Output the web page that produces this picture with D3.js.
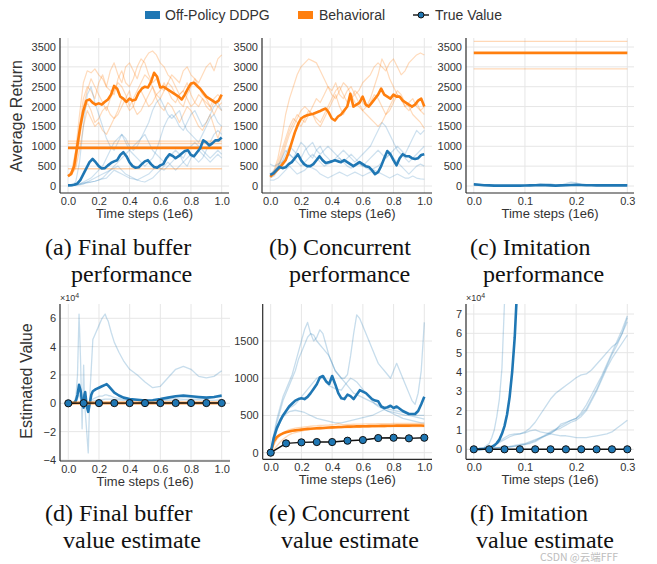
<!DOCTYPE html>
<html><head><meta charset="utf-8">
<script src="https://cdn.jsdelivr.net/npm/d3@7"></script>
<style>body{margin:0;background:#fff}svg{display:block}</style>
</head><body><svg id="c" width="657" height="564"></svg>
<script>
// ---------- DATA ----------
const legendLabels = ["Off-Policy DDPG", "Behavioral", "True Value"];
const xTicksLong = [0, 0.2, 0.4, 0.6, 0.8, 1.0];
const xTicksShort = [0, 0.1, 0.2, 0.3];
const yTicksReturn = [0, 500, 1000, 1500, 2000, 2500, 3000, 3500];
const yTicksD = [-4, -2, 0, 2, 4, 6];
const yTicksE = [0, 500, 1000, 1500];
const yTicksF = [0, 1, 2, 3, 4, 5, 6, 7];
const captions = [["(a) Final buffer", "performance"], ["(b) Concurrent", "performance"], ["(c) Imitation", "performance"],
                  ["(d) Final buffer", "value estimate"], ["(e) Concurrent", "value estimate"], ["(f) Imitation", "value estimate"]];

// (a) Final buffer performance — values on a 0..1e6 grid
const aBehavMean = [250,300,500,1000,1500,1900,2150,2180,2100,2050,2080,2050,2120,2180,2300,2520,2450,2250,2200,2120,2200,2150,2180,2350,2450,2500,2480,2620,2850,2750,2480,2500,2450,2400,2350,2300,2250,2180,2300,2450,2580,2600,2520,2450,2350,2250,2200,2150,2100,2150,2300];
const aDdpgMean = [20,20,30,60,150,300,450,600,680,600,500,440,450,520,580,620,650,780,850,750,600,500,460,470,550,620,650,550,480,460,520,550,700,800,760,700,750,820,880,900,780,750,850,950,1150,1100,1020,1080,1150,1150,1220];
const aBehavRuns = [
 [250,400,900,1800,2600,2900,2850,2950,2800,2700,2500,2900,3100,2800,2600,3000,3100,2900,2700,3000,3200,3350,3400,3300,3100,3000,2800,2700,2500,2300,2400,2600,2300,2100,2000,2200,2100,2000,2200,2300,2200],
 [250,300,600,1500,2200,2500,2400,2200,2600,2800,2500,2400,2300,2700,2900,2600,2500,2700,3000,3200,3100,2800,2600,2700,2500,2400,2600,2800,2700,2600,2900,3000,2800,2700,2600,2800,3000,3100,2900,3200,3300],
 [250,300,450,900,1500,1900,1700,1500,1600,1400,1300,1500,1700,1800,2000,2200,2400,2000,1800,1900,2100,2300,2500,2200,2000,1900,2100,2000,1800,1600,1800,2000,1900,1700,1500,1400,1600,1800,1500,1200,1500],
 [250,350,700,1400,2000,2400,2700,2500,2300,2100,1900,2200,2400,2600,2500,2300,2000,2200,2400,2600,2800,2700,2500,2300,2200,2400,2600,2500,2300,2100,2000,2300,2500,2700,2500,2300,2200,2000,1800,2000,2100],
 [250,300,500,1200,1800,2100,1900,1600,1700,1900,2000,1800,1700,1900,2200,2100,1900,2000,2300,2400,2200,2000,2100,2300,2400,2600,2400,2200,2100,2300,2400,2200,2000,2100,2300,2200,2000,1900,2100,2000,1900]
];
const aDdpgRuns = [
 [0,20,100,600,1500,2300,2500,2100,1800,1500,1200,1000,900,1100,1300,1100,900,800,700,600,500,600,700,900,1200,1500,1700,1800,1700,1500,1400,1600,1800,1900,1700,1500,1600,1800,2000,2100,1900],
 [0,10,20,50,100,150,200,300,400,500,700,900,1100,1200,1300,1200,1000,900,1000,1200,1400,1600,1900,2100,2200,2000,1800,1700,1800,1900,1600,1400,1300,1200,1100,1300,1500,1700,1800,1600,1500],
 [0,10,30,50,80,100,100,120,150,200,300,400,500,600,700,800,900,1000,1100,1200,1300,1100,900,800,700,600,700,800,900,800,700,900,1000,1100,1000,900,800,700,800,900,800],
 [0,10,20,40,60,80,100,120,150,180,200,300,400,350,300,250,200,180,150,200,250,300,400,500,450,400,500,600,700,800,600,500,700,800,900,800,700,600,700,800,700],
 [0,10,20,30,50,100,150,200,250,300,350,400,450,500,400,300,250,200,150,120,100,150,200,300,400,500,600,500,400,500,600,700,800,700,600,700,900,1100,1300,1400,1300]
];
const aBufferMean = 960;
const aBufferRuns = [1130, 1070, 435];

// (b) Concurrent performance
const bBehavMean = [230,300,380,450,550,650,850,1100,1350,1550,1700,1750,1780,1800,1820,1850,1880,1920,1950,1850,1700,1650,1750,1800,1900,2000,2320,2000,2050,2100,2250,2050,2000,2100,2200,2300,2450,2300,2250,2200,2300,2250,2250,2150,2100,2050,2000,2050,2150,2200,2000];
const bDdpgMean = [280,320,400,480,450,470,550,600,700,800,650,550,500,500,550,650,750,650,580,600,620,650,620,600,650,600,550,500,550,600,550,500,480,400,300,350,500,700,880,800,650,520,700,800,750,750,700,680,700,780,800];
const bBehavRuns = [
 [250,400,700,1200,1800,2200,2500,2800,3000,3100,3200,3150,3100,2900,2700,2500,2300,2200,2400,2600,2500,2300,2100,2000,1900,1800,1700,1600,1500,1600,1800,2000,2200,2400,2300,2100,2000,1800,1700,1600,1450],
 [250,300,500,800,1100,1400,1600,1800,1700,1600,1800,2000,2200,2100,2300,2500,2400,2600,2300,2200,2400,2500,2300,2400,2600,2700,2800,3000,3100,3000,2900,3100,3200,3000,2800,2900,3100,3200,3300,3350,3300],
 [250,350,600,900,1200,1500,1700,1600,1500,1700,1900,1800,1600,1500,1700,1900,2100,2300,2000,1800,2000,2200,2400,2300,2100,2000,2200,2500,2800,3200,3000,2700,2500,2300,2200,2000,1900,2000,2100,1900,1800],
 [250,300,450,700,1000,1300,1500,1700,1900,2000,1900,1800,1700,1600,1800,2000,2200,2400,2500,2300,2100,2200,2300,2100,1900,2000,2100,2300,2200,2000,1800,1900,2100,2300,2200,2000,2100,2200,2000,1900,2000]
];
const bDdpgRuns = [
 [300,400,500,700,900,800,700,900,1100,1000,800,700,900,1000,800,700,600,700,800,900,800,700,600,700,800,900,1000,1200,1400,1600,1500,1300,1100,900,800,700,600,700,800,900,1000],
 [200,250,400,600,800,1000,900,800,700,900,1000,1100,900,800,900,1000,900,800,700,600,700,800,700,600,500,600,700,800,900,800,700,800,900,1000,900,800,1000,1200,1400,1300,1400],
 [150,150,200,300,400,500,400,300,350,400,500,450,400,300,250,200,250,300,350,300,250,300,350,300,250,300,350,400,350,300,250,200,250,300,250,200,200,250,200,180,170],
 [550,500,550,600,700,800,700,600,500,600,700,800,700,600,500,550,600,650,700,600,500,450,500,550,500,450,400,450,500,600,700,800,700,600,500,400,300,400,500,550,500]
];

// (c) Imitation performance (0..0.3e6)
const cBehavMean = 3350;
const cBehavRuns = [3640, 3380, 2950];
const cDdpgMean = [40,30,20,15,10,10,10,10,10,10,12,15,20,25,20,15,10,15,20,25,30,25,20,20,15,15,15,15,15,15,15];
const cDdpgRun = [50,40,30,20,15,10,10,10,10,10,15,20,30,50,60,50,30,20,60,100,80,40,30,20,20,15,15,15,15,15,15];

// (d) Final buffer value estimate (x1e4)
const dTime = [0,.02,.04,.05,.06,.07,.08,.09,.10,.105,.11,.12,.13,.14,.15,.16,.18,.20,.22,.24,.25,.26,.28,.30,.33,.36,.40,.45,.50,.55,.60,.65,.70,.75,.80,.85,.90,.95,1.0];
const dDdpgMean = [0,0,0.05,0.2,0.6,1.3,0.9,0.1,-0.3,0.6,0.8,-0.2,-0.6,0.0,0.6,0.85,1.0,1.1,1.2,1.3,1.35,1.25,1.0,0.75,0.55,0.4,0.3,0.25,0.2,0.22,0.3,0.4,0.5,0.55,0.5,0.45,0.4,0.45,0.55];
const dDdpgRuns = [
 [0,0,0.1,0.5,2.0,6.3,3.0,-1.8,2.7,0.5,-0.5,-2.0,-3.5,0.5,2.5,4.5,5.0,5.5,6.0,6.3,6.0,5.8,5.0,4.3,3.6,3.0,2.4,2.0,1.5,1.1,1.2,1.8,2.4,2.6,2.4,1.9,1.8,1.9,2.3],
 [0,0,0.02,0.1,0.3,0.6,0.3,0.0,0.1,0.2,0.3,0.1,0.0,0.1,0.2,0.3,0.4,0.5,0.5,0.6,0.6,0.55,0.5,0.4,0.35,0.3,0.25,0.2,0.2,0.2,0.25,0.3,0.35,0.4,0.4,0.35,0.35,0.4,0.45],
 [0,0,0,0.02,0.05,0.1,0.1,0.05,0.05,0.05,0.05,0.05,0.05,0.1,0.1,0.15,0.2,0.2,0.25,0.3,0.3,0.3,0.3,0.25,0.25,0.2,0.2,0.2,0.15,0.15,0.15,0.2,0.2,0.25,0.25,0.25,0.2,0.2,0.25]
];
const dBehav = [0.03,0.03];
const trueTimeLong = [0,0.1,0.2,0.3,0.4,0.5,0.6,0.7,0.8,0.9,1.0];
const dTrue = [0,0.012,0.013,0.014,0.014,0.016,0.017,0.02,0.02,0.019,0.02];

// (e) Concurrent value estimate
const eDdpgMean = [0,200,330,420,500,560,620,660,700,720,730,720,750,800,860,920,1010,1030,960,920,1030,920,800,730,720,780,760,720,780,840,820,800,760,720,700,690,620,600,610,630,600,620,590,560,540,520,520,520,560,650,750];
const eDdpgRuns = [
 [0,250,450,600,750,850,950,1050,1200,1350,1500,1650,1750,1600,1500,1550,1650,1600,1450,1300,1200,1100,1050,1000,950,900,850,800,780,760,740,720,700,680,660,640,620,600,590,580,570,560,550,540,530,520,510,500,500,500,500],
 [0,200,400,550,700,800,900,1000,1100,1250,1350,1450,1550,1600,1580,1500,1450,1400,1350,1300,1200,1100,1050,1000,1000,1050,1300,1600,1850,1800,1700,1600,1500,1400,1300,1200,1150,1100,1050,1000,1100,1200,1100,1000,900,800,700,650,800,1100,1750],
 [0,200,350,450,500,550,600,620,650,700,750,800,850,900,950,1000,1020,1000,950,900,880,860,850,840,900,950,1000,980,950,900,850,800,750,700,650,620,600,580,560,550,540,530,520,510,500,500,490,480,470,460,450],
 [0,150,300,400,480,520,550,560,570,560,550,540,520,500,480,460,450,440,430,420,410,400,400,400,410,420,430,440,450,460,470,480,490,500,520,540,560,580,560,540,520,500,480,460,450,440,430,420,410,400,400]
];
const eBehavMean = [0,150,210,240,260,275,285,295,300,305,310,315,320,322,325,328,330,332,335,338,340,342,345,346,348,350,350,352,353,354,355,356,357,358,358,359,360,360,361,362,362,363,363,364,364,364,365,365,365,365,362];
const eBehavRuns = [
 [0,100,180,230,260,290,310,320,330,335,340,345,350,355,360,362,365,368,370,372,375,378,390,380,378,380,380,382,383,385,385,386,387,388,388,389,390,390,390,391,392,392,393,393,393,394,394,394,394,394,390],
 [0,40,90,140,180,210,240,260,270,280,290,300,305,310,312,315,318,320,322,325,328,330,332,334,335,336,337,338,339,340,341,342,343,344,345,346,347,347,348,348,349,349,350,350,350,350,351,351,351,351,350]
];
const eTrue = [0,125,139,143,143,161,170,197,201,193,201];

// (f) Imitation value estimate (x1e4, 0..0.3e6)
const fMeanTime = [0,.01,.02,.03,.035,.04,.045,.05,.055,.06,.065,.07,.075,.08,.085];
const fDdpgMean = [0,0.01,0.03,0.07,0.12,0.2,0.32,0.5,0.8,1.2,1.8,2.7,4.0,5.8,8.5];
const fSteepTime = [0,.01,.02,.03,.035,.04,.045,.05,.055,.06,.065];
const fSteepRun = [0,0.02,0.1,0.3,0.6,1.0,1.7,2.6,4.2,7.6,11];
const fDdpgRuns = [
 [0,0.02,0.05,0.1,0.2,0.35,0.5,0.65,0.75,0.8,0.9,1.1,1.4,1.8,2.2,2.6,2.9,3.1,3.3,3.5,3.7,3.85,3.9,4.1,4.4,4.7,5.0,5.3,5.5,6.0,6.8],
 [0,0.02,0.05,0.1,0.2,0.4,0.6,0.75,0.8,0.8,0.85,0.95,1.0,0.9,0.85,0.8,0.75,0.7,0.7,0.65,0.6,0.6,0.6,0.65,0.7,0.75,0.8,0.9,1.1,1.3,1.5],
 [0,0.01,0.02,0.05,0.08,0.1,0.12,0.15,0.2,0.25,0.3,0.4,0.5,0.6,0.7,0.8,1.0,1.3,1.4,1.5,1.6,1.9,2.3,2.8,3.3,3.8,4.4,5.0,5.6,6.2,6.9],
 [0,0.01,0.02,0.04,0.06,0.08,0.1,0.12,0.15,0.2,0.25,0.3,0.4,0.55,0.7,0.85,1.0,1.1,1.25,1.4,1.5,1.7,2.0,2.5,3.0,3.6,4.2,4.7,5.1,5.5,5.9],
 [0,0.01,0.02,0.04,0.06,0.08,0.1,0.13,0.16,0.2,0.26,0.35,0.45,0.6,0.75,0.9,1.05,1.2,1.35,1.5,1.6,1.8,2.1,2.6,3.1,3.7,4.3,4.9,5.4,6.0,6.6]
];
const trueTimeShort = [0,.03,.06,.09,.12,.15,.18,.21,.24,.27,.30];
const fTrue = [0,0,0,0,0,0,0,0,0,0,0];

// ---------- DRAWING ----------
const BLUE = "#1f77b4", ORANGE = "#ff7f0e", TXT = "#333";
const SANS = "'Liberation Sans', Arial, Helvetica, sans-serif";
const SERIF = "'Liberation Serif', 'Times New Roman', serif";
const svg = d3.select("#c");
const defs = svg.append("defs");

function onGrid(vals, tmax) { return vals.map((v, i) => [i / (vals.length - 1) * tmax, v]); }
function zipT(ts, vals) { return vals.map((v, i) => [ts[i], v]); }

function panel(o) {
  const x = d3.scaleLinear().domain(o.xd).range(o.xr);
  const y = d3.scaleLinear().domain(o.yd).range(o.yr);
  const g = svg.append("g");
  defs.append("clipPath").attr("id", "clip" + o.id).append("rect")
    .attr("x", o.l).attr("y", o.t).attr("width", o.r - o.l).attr("height", o.b - o.t);
  g.selectAll(null).data(o.xt).join("line")
    .attr("x1", d => x(d)).attr("x2", d => x(d)).attr("y1", o.t).attr("y2", o.b)
    .attr("stroke", "#e6e6e6").attr("stroke-width", 1);
  g.selectAll(null).data(o.yt).join("line")
    .attr("x1", o.l).attr("x2", o.r).attr("y1", d => y(d)).attr("y2", d => y(d))
    .attr("stroke", "#e6e6e6").attr("stroke-width", 1);
  const plot = g.append("g").attr("clip-path", `url(#clip${o.id})`);
  const ax = g.append("g").attr("transform", `translate(0,${o.b})`)
    .call(d3.axisBottom(x).tickValues(o.xt).tickFormat(d3.format(".1f")).tickSize(0).tickPadding(4));
  const ay = g.append("g").attr("transform", `translate(${o.l},0)`)
    .call(d3.axisLeft(y).tickValues(o.yt).tickFormat(d3.format("d")).tickSize(0).tickPadding(4));
  [ax, ay].forEach(a => {
    a.select(".domain").remove();
    a.selectAll("text").attr("font-family", SANS).attr("font-size", 11).attr("fill", TXT);
  });
  g.append("line").attr("x1", o.l).attr("x2", o.l).attr("y1", o.t).attr("y2", o.b).attr("stroke", "#2b2b2b").attr("stroke-width", 1.2);
  g.append("line").attr("x1", o.l).attr("x2", o.r).attr("y1", o.b).attr("y2", o.b).attr("stroke", "#2b2b2b").attr("stroke-width", 1.2);
  g.append("text").attr("x", (o.l + o.r) / 2).attr("y", o.b + 25).attr("text-anchor", "middle")
    .attr("font-family", SANS).attr("font-size", 13).attr("fill", TXT).text("Time steps (1e6)");
  if (o.ylabel) {
    g.append("text").attr("transform", `translate(${o.ylx},${o.yly}) rotate(-90)`).attr("text-anchor", "middle")
      .attr("font-family", SANS).attr("font-size", 16).attr("fill", TXT).text(o.ylabel);
  }
  if (o.exp) {
    const t = g.append("text").attr("x", o.l).attr("y", o.t - 3).attr("font-family", SANS).attr("font-size", 9).attr("fill", TXT);
    t.append("tspan").text("×10");
    t.append("tspan").attr("dy", -3).attr("font-size", 7).text("4");
  }
  return { x, y, plot };
}

function line(p, pts, color, w, op) {
  const gen = d3.line().x(d => p.x(d[0])).y(d => p.y(d[1]));
  p.plot.append("path").datum(pts).attr("d", gen).attr("fill", "none")
    .attr("stroke", color).attr("stroke-width", w).attr("stroke-opacity", op)
    .attr("stroke-linejoin", "round");
}
function trueLine(p, pts) {
  line(p, pts, "#111", 1.4, 1);
  p.plot.selectAll(null).data(pts).join("circle")
    .attr("cx", d => p.x(d[0])).attr("cy", d => p.y(d[1])).attr("r", 3.6)
    .attr("fill", BLUE).attr("stroke", "#111").attr("stroke-width", 1);
}

const topY = { yd: [0, 3500], yr: [186, 47], t: 38, b: 193, yt: yTicksReturn };
// (a)
const pa = panel(Object.assign({ id: "a", l: 60, r: 229, xd: [0, 1], xr: [68, 221.7], xt: xTicksLong,
  ylabel: "Average Return", ylx: 22, yly: 116 }, topY));
aBehavRuns.forEach(r => line(pa, onGrid(r, 1), ORANGE, 1.2, 0.28));
aDdpgRuns.forEach(r => line(pa, onGrid(r, 1), BLUE, 1.2, 0.22));
aBufferRuns.forEach(v => line(pa, [[0, v], [1, v]], ORANGE, 1.4, 0.35));
line(pa, [[0, aBufferMean], [1, aBufferMean]], ORANGE, 2.6, 1);
line(pa, onGrid(aBehavMean, 1), ORANGE, 2.6, 1);
line(pa, onGrid(aDdpgMean, 1), BLUE, 2.6, 1);
// (b)
const pb = panel(Object.assign({ id: "b", l: 262, r: 432, xd: [0, 1], xr: [270.2, 424.3], xt: xTicksLong }, topY));
bBehavRuns.forEach(r => line(pb, onGrid(r, 1), ORANGE, 1.2, 0.28));
bDdpgRuns.forEach(r => line(pb, onGrid(r, 1), BLUE, 1.2, 0.22));
line(pb, onGrid(bBehavMean, 1), ORANGE, 2.6, 1);
line(pb, onGrid(bDdpgMean, 1), BLUE, 2.6, 1);
// (c)
const pc = panel(Object.assign({ id: "c", l: 466, r: 634, xd: [0, 0.3], xr: [473.8, 627.3], xt: xTicksShort }, topY));
cBehavRuns.forEach(v => line(pc, [[0, v], [0.3, v]], ORANGE, 1.3, 0.3));
line(pc, [[0, cBehavMean], [0.3, cBehavMean]], ORANGE, 2.6, 1);
line(pc, onGrid(cDdpgRun, 0.3), BLUE, 1.3, 0.25);
line(pc, onGrid(cDdpgMean, 0.3), BLUE, 2.6, 1);

// (d)
const pd = panel({ id: "d", l: 60, r: 230, t: 304, b: 461, xd: [0, 1], xr: [68.3, 221.7], xt: xTicksLong,
  yd: [0, 6], yr: [403.3, 318.3], yt: yTicksD, ylabel: "Estimated Value", ylx: 32, yly: 381, exp: true });
dDdpgRuns.forEach(r => line(pd, zipT(dTime, r), BLUE, 1.3, 0.25));
line(pd, zipT(dTime, dDdpgMean), BLUE, 2.6, 1);
line(pd, [[0, dBehav[0]], [1, dBehav[1]]], ORANGE, 3, 0.8);
trueLine(pd, zipT(trueTimeLong, dTrue));
// (e)
const pe = panel({ id: "e", l: 262.7, r: 432, t: 304, b: 459.3, xd: [0, 1], xr: [270.7, 424.3], xt: xTicksLong,
  yd: [0, 1500], yr: [452.7, 341], yt: yTicksE });
eDdpgRuns.forEach(r => line(pe, onGrid(r, 1), BLUE, 1.3, 0.25));
eBehavRuns.forEach(r => line(pe, onGrid(r, 1), ORANGE, 1.3, 0.3));
line(pe, onGrid(eBehavMean, 1), ORANGE, 2.6, 1);
line(pe, onGrid(eDdpgMean, 1), BLUE, 2.6, 1);
trueLine(pe, zipT(trueTimeLong, eTrue));
// (f)
const pf = panel({ id: "f", l: 466, r: 634, t: 304, b: 459.3, xd: [0, 0.3], xr: [473.8, 627.3], xt: xTicksShort,
  yd: [0, 7], yr: [449.3, 314], yt: yTicksF, exp: true });
fDdpgRuns.forEach(r => line(pf, onGrid(r, 0.3), BLUE, 1.3, 0.25));
line(pf, zipT(fSteepTime, fSteepRun), BLUE, 1.3, 0.25);
line(pf, zipT(fMeanTime, fDdpgMean), BLUE, 2.6, 1);
trueLine(pf, zipT(trueTimeShort, fTrue));

// Legend
const lg = svg.append("g").attr("font-family", SANS).attr("font-size", 14).attr("fill", TXT);
lg.append("rect").attr("x", 145).attr("y", 11).attr("width", 15).attr("height", 8).attr("fill", BLUE);
lg.append("text").attr("x", 165).attr("y", 20).text(legendLabels[0]);
lg.append("rect").attr("x", 298).attr("y", 11).attr("width", 15).attr("height", 8).attr("fill", ORANGE);
lg.append("text").attr("x", 319).attr("y", 20).text(legendLabels[1]);
lg.append("line").attr("x1", 413).attr("x2", 429).attr("y1", 15).attr("y2", 15).attr("stroke", "#111").attr("stroke-width", 1.4);
lg.append("circle").attr("cx", 421).attr("cy", 15).attr("r", 3).attr("fill", BLUE).attr("stroke", "#111");
lg.append("text").attr("x", 435).attr("y", 20).text(legendLabels[2]);

// Captions
const capPos = [[45, 71, 255], [269, 289, 255], [470, 483, 255], [45, 63, 521], [269, 281, 521], [470, 476, 521]];
captions.forEach((c, i) => {
  const [x1, x2, yb] = capPos[i];
  svg.append("text").attr("x", x1).attr("y", yb).attr("font-family", SERIF).attr("font-size", 24).attr("fill", "#111").text(c[0]);
  svg.append("text").attr("x", x2).attr("y", yb + 27).attr("font-family", SERIF).attr("font-size", 24).attr("fill", "#111").text(c[1]);
});
svg.append("text").attr("x", 540).attr("y", 561).attr("font-family", "'Noto Sans CJK SC', sans-serif")
  .attr("font-size", 10.5).attr("fill", "#bdbdbd").text("CSDN @云端FFF");
</script></body></html>
